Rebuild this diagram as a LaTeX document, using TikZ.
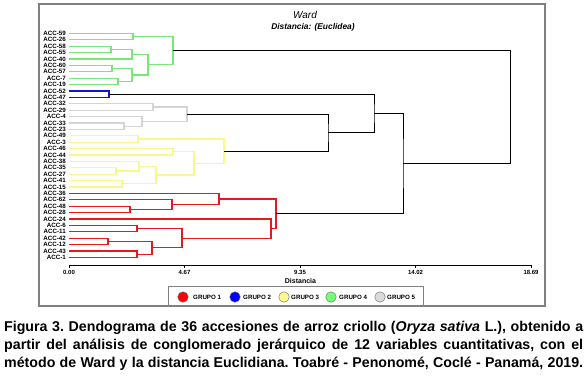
\documentclass[tikz,border=0pt]{standalone}
\usepackage{fontspec}
\setmainfont{Liberation Sans}
\definecolor{rojo}{RGB}{225,28,28}
\definecolor{azul}{RGB}{20,20,205}
\definecolor{amarillo}{RGB}{248,248,140}
\definecolor{verde}{RGB}{120,232,120}
\definecolor{gris}{RGB}{212,212,212}
\tikzset{
  hoja/.style={anchor=east,inner xsep=3pt,inner ysep=0pt,font=\fontsize{6.2}{7}\selectfont\bfseries},
  rama/.style={line width=1.2pt},
  enlace/.style={line width=0.9pt,black},
  eti/.style={inner sep=0pt,font=\fontsize{6}{7}\selectfont\bfseries},
  bola/.style={circle,draw=black!60,line width=0.4pt,minimum size=10.5pt,inner sep=0pt},
  ley/.style={anchor=west,inner sep=0pt,font=\fontsize{6.2}{7}\selectfont\bfseries},
  pie/.style={anchor=base west,inner sep=0pt,font=\fontsize{14.2}{18}\selectfont\bfseries\frenchspacing}
}
\begin{document}
\begin{tikzpicture}[x=1pt,y=-1pt]
\useasboundingbox (0,0) rectangle (585,384);
\draw[black!50,line width=1.1pt] (39,4) rectangle (545,306);

\node[font=\fontsize{10}{12}\selectfont\itshape] (titulo) at (305,15) {Ward};
\node[font=\fontsize{8.4}{10}\selectfont\bfseries\itshape] (subtitulo) at (313,27) {Distancia: (Euclidea)};

\begin{scope}[y=-6.4pt,yshift=-33.3pt]
\node[hoja] (l59) at (69,0) {ACC-59};
\node[hoja] (l26) at (69,1) {ACC-26};
\node[hoja] (l58) at (69,2) {ACC-58};
\node[hoja] (l55) at (69,3) {ACC-55};
\node[hoja] (l40) at (69,4) {ACC-40};
\node[hoja] (l60) at (69,5) {ACC-60};
\node[hoja] (l57) at (69,6) {ACC-57};
\node[hoja] (l7) at (69,7) {ACC-7};
\node[hoja] (l19) at (69,8) {ACC-19};
\node[hoja] (l52) at (69,9) {ACC-52};
\node[hoja] (l47) at (69,10) {ACC-47};
\node[hoja] (l32) at (69,11) {ACC-32};
\node[hoja] (l29) at (69,12) {ACC-29};
\node[hoja] (l4) at (69,13) {ACC-4};
\node[hoja] (l33) at (69,14) {ACC-33};
\node[hoja] (l23) at (69,15) {ACC-23};
\node[hoja] (l49) at (69,16) {ACC-49};
\node[hoja] (l3) at (69,17) {ACC-3};
\node[hoja] (l46) at (69,18) {ACC-46};
\node[hoja] (l44) at (69,19) {ACC-44};
\node[hoja] (l38) at (69,20) {ACC-38};
\node[hoja] (l35) at (69,21) {ACC-35};
\node[hoja] (l27) at (69,22) {ACC-27};
\node[hoja] (l41) at (69,23) {ACC-41};
\node[hoja] (l15) at (69,24) {ACC-15};
\node[hoja] (l36) at (69,25) {ACC-36};
\node[hoja] (l62) at (69,26) {ACC-62};
\node[hoja] (l48) at (69,27) {ACC-48};
\node[hoja] (l28) at (69,28) {ACC-28};
\node[hoja] (l24) at (69,29) {ACC-24};
\node[hoja] (l6) at (69,30) {ACC-6};
\node[hoja] (l11) at (69,31) {ACC-11};
\node[hoja] (l42) at (69,32) {ACC-42};
\node[hoja] (l12) at (69,33) {ACC-12};
\node[hoja] (l43) at (69,34) {ACC-43};
\node[hoja] (l1) at (69,35) {ACC-1};

\coordinate (v1) at (133,0.5);
\coordinate (v2) at (111,2.5);
\coordinate (v3) at (132,3.25);
\coordinate (v4) at (112,5.5);
\coordinate (v5) at (118,7.5);
\coordinate (v6) at (132,6.5);
\coordinate (v7) at (148,4.875);
\coordinate (v8) at (173,2.6875);

\coordinate (a1) at (109,9.5);

\coordinate (s1) at (153,11.5);
\coordinate (s2) at (124,14.5);
\coordinate (s3) at (142,13.75);
\coordinate (s4) at (187,12.625);

\coordinate (y1) at (138,16.5);
\coordinate (y2) at (173,18.5);
\coordinate (y3) at (116,21.5);
\coordinate (y4) at (139,20.75);
\coordinate (y5) at (122,23.5);
\coordinate (y6) at (156,22.125);
\coordinate (y7) at (194,20.3125);
\coordinate (y8) at (224,18.40625);

\coordinate (r1) at (130,27.5);
\coordinate (r2) at (172,26.75);
\coordinate (r3) at (219,25.875);
\coordinate (r4) at (137,30.5);
\coordinate (r5) at (108,32.5);
\coordinate (r6) at (137,34.5);
\coordinate (r7) at (152,33.5);
\coordinate (r8) at (182,32);
\coordinate (r9) at (271,30.5);
\coordinate (r10) at (276,28.1875);

\coordinate (t1) at (328,15.515625);
\coordinate (t2) at (374,12.5078);
\coordinate (t3) at (403,20.3477);
\coordinate (t4) at (510,11.5176);

\draw[rama,verde] (l59.east) -| (v1) |- (l26.east);
\draw[rama,verde] (l58.east) -| (v2) |- (l55.east);
\draw[rama,verde] (v2) -| (v3) |- (l40.east);
\draw[rama,verde] (l60.east) -| (v4) |- (l57.east);
\draw[rama,verde] (l7.east) -| (v5) |- (l19.east);
\draw[rama,verde] (v4) -| (v6) |- (v5);
\draw[rama,verde] (v3) -| (v7) |- (v6);
\draw[rama,verde] (v1) -| (v8) |- (v7);

\draw[rama,azul] (l52.east) -| (a1) |- (l47.east);

\draw[rama,gris] (l32.east) -| (s1) |- (l29.east);
\draw[rama,gris] (l33.east) -| (s2) |- (l23.east);
\draw[rama,gris] (l4.east) -| (s3) |- (s2);
\draw[rama,gris] (s1) -| (s4) |- (s3);

\draw[rama,amarillo] (l49.east) -| (y1) |- (l3.east);
\draw[rama,amarillo] (l46.east) -| (y2) |- (l44.east);
\draw[rama,amarillo] (l35.east) -| (y3) |- (l27.east);
\draw[rama,amarillo] (l38.east) -| (y4) |- (y3);
\draw[rama,amarillo] (l41.east) -| (y5) |- (l15.east);
\draw[rama,amarillo] (y4) -| (y6) |- (y5);
\draw[rama,amarillo] (y2) -| (y7) |- (y6);
\draw[rama,amarillo] (y1) -| (y8) |- (y7);

\draw[rama,rojo] (l48.east) -| (r1) |- (l28.east);
\draw[rama,rojo] (l62.east) -| (r2) |- (r1);
\draw[rama,rojo] (l36.east) -| (r3) |- (r2);
\draw[rama,rojo] (l6.east) -| (r4) |- (l11.east);
\draw[rama,rojo] (l42.east) -| (r5) |- (l12.east);
\draw[rama,rojo] (l43.east) -| (r6) |- (l1.east);
\draw[rama,rojo] (r5) -| (r7) |- (r6);
\draw[rama,rojo] (r4) -| (r8) |- (r7);
\draw[rama,rojo] (l24.east) -| (r9) |- (r8);
\draw[rama,rojo] (r3) -| (r10) |- (r9);

\draw[enlace] (s4) -| (t1) |- (y8);
\draw[enlace] (a1) -| (t2) |- (t1);
\draw[enlace] (t2) -| (t3) |- (r10);
\draw[enlace] (v8) -| (t4) |- (t3);
\end{scope}

\coordinate (e0) at (69,265);
\coordinate (e4) at (531,265);
\draw[enlace] (e0) -- (e4);
\foreach \x/\v [count=\i] in {69/0.00,184.5/4.67,300/9.35,415.5/14.02,531/18.69}{
  \draw[enlace] (\x,265) -- (\x,267.5);
  \node[eti] (m\i) at (\x,272) {\v};
}
\node[font=\fontsize{7}{8}\selectfont\bfseries] (ejex) at (300.5,280.5) {Distancia};

\draw[black!50,line width=0.6pt] (168,286) rectangle (423,306);
\node[bola,fill=red] (c1) at (183,297) {};
\node[ley] (g1) at (193,297) {GRUPO 1};
\node[bola,fill=blue] (c2) at (235,297) {};
\node[ley] (g2) at (243,297) {GRUPO 2};
\node[bola,fill=yellow!45] (c3) at (284,297) {};
\node[ley] (g3) at (291,297) {GRUPO 3};
\node[bola,fill=green!55] (c4) at (331,297) {};
\node[ley] (g4) at (339,297) {GRUPO 4};
\node[bola,fill=black!15] (c5) at (380,297) {};
\node[ley] (g5) at (387,297) {GRUPO 5};

\node[pie] (pie1) at (4,331)
  {\makebox[579pt][s]{Figura 3. Dendograma de 36 accesiones de arroz criollo (\textit{Oryza sativa} L.), obtenido a}};
\node[pie] (pie2) at (4,349)
  {\makebox[579pt][s]{partir del análisis de conglomerado jerárquico de 12 variables cuantitativas, con el}};
\node[pie] (pie3) at (4,367)
  {\makebox[579pt][s]{método de Ward y la distancia Euclidiana. Toabré - Penonomé, Coclé - Panamá, 2019.}};
\end{tikzpicture}
\end{document}
